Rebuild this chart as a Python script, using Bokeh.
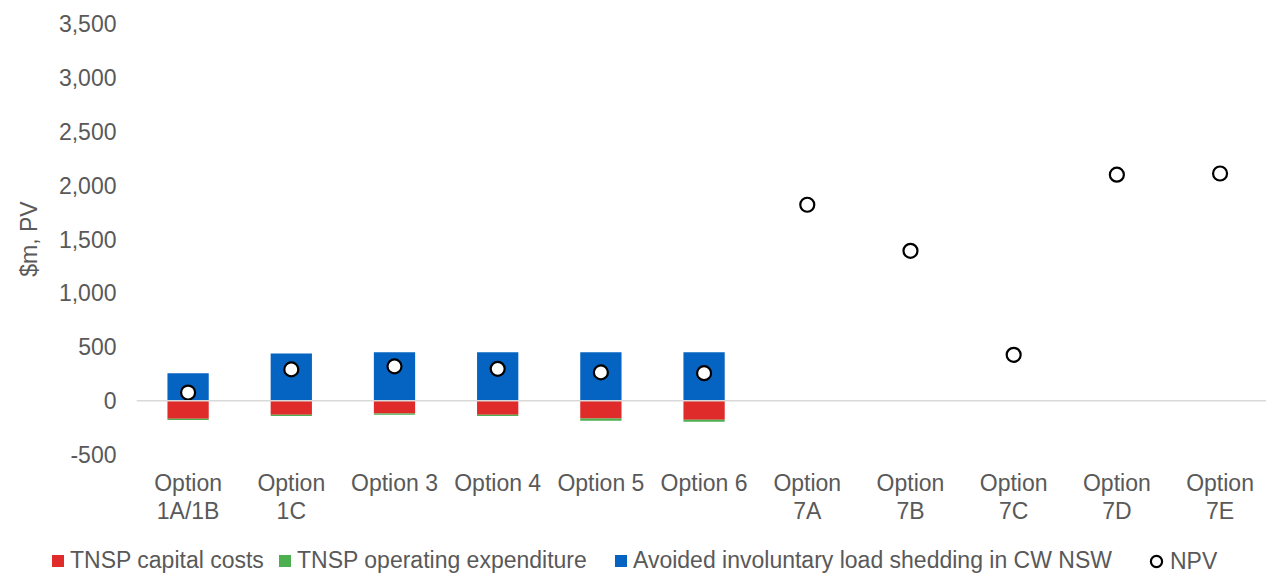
import numpy as np
from bokeh.plotting import figure
from bokeh.models import (Range1d, FixedTicker, NumeralTickFormatter, Span,
                          Legend, LegendItem, ColumnDataSource)
from bokeh.embed import file_html
from bokeh.resources import INLINE

# Options assessed ($m, present value)
categories = ["Option\n1A/1B", "Option\n1C", "Option 3", "Option 4", "Option 5",
              "Option 6", "Option\n7A", "Option\n7B", "Option\n7C", "Option\n7D",
              "Option\n7E"]
capex = [168, 132, 120, 132, 167, 178, 0, 0, 0, 0, 0]
opex = [12, 10, 10, 10, 20, 18, 0, 0, 0, 0, 0]
avoided_shedding = [255, 437, 450, 450, 450, 450, 0, 0, 0, 0, 0]
npv = [75, 290, 318, 295, 262, 255, 1818, 1390, 425, 2097, 2108]
y_ticks = [-500, 0, 500, 1000, 1500, 2000, 2500, 3000, 3500]
series_names = ["TNSP capital costs", "TNSP operating expenditure",
                "Avoided involuntary load shedding in CW NSW", "NPV"]

RED = "#E02B2B"
GREEN = "#4CAF50"
BLUE = "#0563C1"
GREY_TEXT = "#595959"
FONT = "Liberation Sans"
FS = "23px"

x = np.arange(len(categories))
cap = np.array(capex, dtype=float)
op = np.array(opex, dtype=float)
src = ColumnDataSource(dict(
    x=x,
    cap_top=np.zeros_like(cap), cap_bottom=-cap,
    op_top=-cap, op_bottom=-(cap + op),
    av_top=np.array(avoided_shedding, dtype=float), av_bottom=np.zeros_like(cap),
    npv=np.array(npv, dtype=float),
))

bw = 0.4
bar_styles = [("cap_top", "cap_bottom", RED), ("op_top", "op_bottom", GREEN),
              ("av_top", "av_bottom", BLUE)]
npv_style = dict(marker="circle", fill_color="white", line_color="black",
                 line_width=2.2)


def draw_bars(fig):
    """Stacked cost bars (below zero) and avoided-cost bars (above zero)."""
    return [fig.vbar(x="x", top=t, bottom=b, width=bw, source=src,
                     fill_color=c, line_color=None) for t, b, c in bar_styles]


# ---- main chart -------------------------------------------------------------
p = figure(width=1266, height=530, output_backend="svg", toolbar_location=None,
           x_range=Range1d(-0.5, 10.45), y_range=Range1d(-500, 3500),
           min_border_left=136, min_border_right=0, min_border_top=23,
           min_border_bottom=76)
p.outline_line_color = None
p.grid.visible = False

draw_bars(p)
p.add_layout(Span(location=0, dimension="width", line_color="#D9D9D9",
                  line_width=1.5))
p.scatter(x="x", y="npv", source=src, size=14, **npv_style)

p.xaxis.ticker = FixedTicker(ticks=list(x))
p.xaxis.major_label_overrides = {int(i): c for i, c in zip(x, categories)}
p.yaxis.ticker = FixedTicker(ticks=y_ticks)
p.yaxis.formatter = NumeralTickFormatter(format="0,0")
for ax in (p.xaxis[0], p.yaxis[0]):
    ax.axis_line_color = None
    ax.major_tick_line_color = None
    ax.minor_tick_line_color = None
    ax.major_tick_out = 0
    ax.major_tick_in = 0
    ax.minor_tick_out = 0
    ax.major_label_text_font = FONT
    ax.major_label_text_font_size = FS
    ax.major_label_text_color = GREY_TEXT
p.xaxis.major_label_text_line_height = 1.1
p.xaxis.major_label_standoff = 15
p.yaxis.major_label_standoff = 20
p.yaxis.axis_label = "$m, PV"
p.yaxis.axis_label_text_font = FONT
p.yaxis.axis_label_text_font_size = FS
p.yaxis.axis_label_text_font_style = "normal"
p.yaxis.axis_label_text_color = GREY_TEXT
p.yaxis.axis_label_standoff = 14

# ---- legend strip -----------------------------------------------------------
# the same series are drawn here outside the visible window; only their keys show
leg = figure(width=1266, height=44, output_backend="svg", toolbar_location=None,
             x_axis_location=None, y_axis_location=None,
             x_range=Range1d(0, 1), y_range=Range1d(10000, 10001),
             min_border_left=0, min_border_right=0, min_border_top=0,
             min_border_bottom=0)
leg.outline_line_color = None
leg.grid.visible = False
keys = draw_bars(leg)
keys.append(leg.scatter(x="x", y="npv", source=src, size=12, **npv_style))

# (glyph box left edge, label standoff, glyph size, bottom offset)
entries = [(50, 5, 15, 0), (277, 5, 15, 0), (613, 5, 15, 0), (1142, 0, 28, -1)]
for name, key, (lx, so, gs, ly) in zip(series_names, keys, entries):
    leg.add_layout(Legend(
        items=[LegendItem(label=name, renderers=[key])],
        location=(lx, ly), orientation="horizontal",
        glyph_width=gs, glyph_height=gs, label_standoff=so,
        padding=0, margin=0, border_line_color=None, background_fill_alpha=0,
        label_text_font=FONT, label_text_font_size=FS,
        label_text_color=GREY_TEXT))

open("out.html", "w").write(file_html([p, leg], INLINE))
